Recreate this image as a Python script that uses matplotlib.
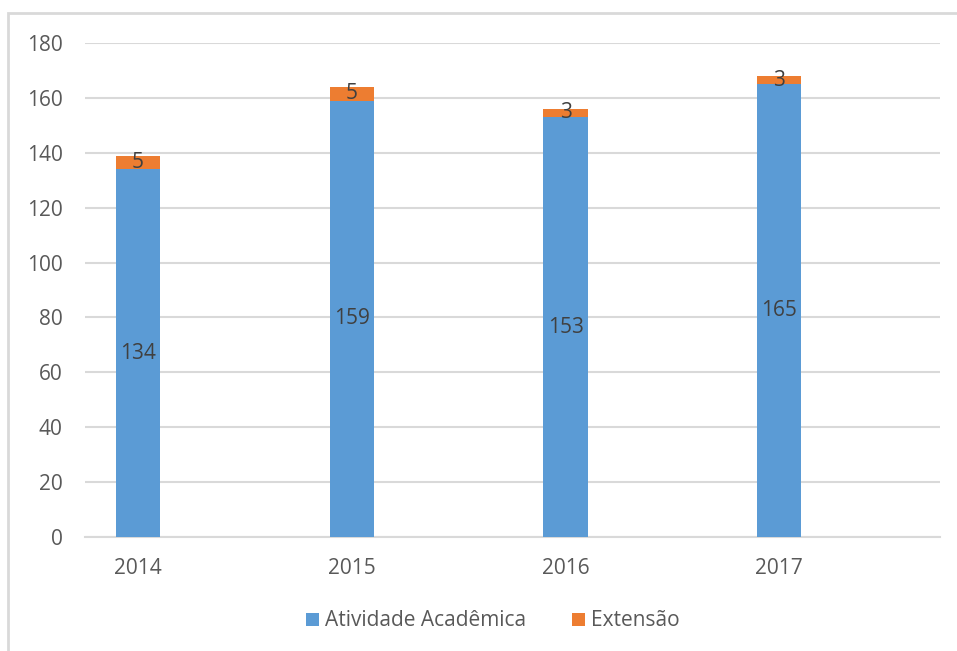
import matplotlib
matplotlib.use("Agg")
import matplotlib.pyplot as plt
from matplotlib.patches import Rectangle
import numpy as np

years = ["2014", "2015", "2016", "2017"]
academica = [134, 159, 153, 165]
extensao = [5, 5, 3, 3]
series_names = ["Atividade Acadêmica", "Extensão"]
yticks = [0, 20, 40, 60, 80, 100, 120, 140, 160, 180]

plt.rcParams['font.family'] = ['Open Sans', 'DejaVu Sans']
txt = '#595959'
blue = '#5B9BD5'
orange = '#ED7D31'
fs = 15

fig = plt.figure(figsize=(9.57, 6.51), dpi=100)
fig.patches.append(Rectangle((8/957, -0.1), 1.2, 1 - 13/651 + 0.1, transform=fig.transFigure,
                             fill=False, edgecolor='#D9D9D9', linewidth=2, zorder=0))
ax = fig.add_axes([85/957, 1 - 537/651, (940 - 85)/957, (537 - 43)/651])

x = np.arange(len(years))
w = 0.206
ax.bar(x, academica, width=w, color=blue, label=series_names[0], zorder=3)
ax.bar(x, extensao, width=w, bottom=academica, color=orange, label=series_names[1], zorder=3)

for xi, a, e in zip(x, academica, extensao):
    ax.text(xi, a / 2, str(a), ha='center', va='center', fontsize=fs, color='#404040', zorder=4)
    ax.text(xi, a + e / 2, str(e), ha='center', va='center', fontsize=fs, color='#404040', zorder=4)

ax.set_xlim(-0.248, 3.752)
ax.set_ylim(0, 180)
ax.set_yticks(yticks)
ax.set_xticks(x)
ax.set_xticklabels(years)
ax.tick_params(axis='both', length=0, labelsize=fs, labelcolor=txt)
ax.tick_params(axis='y', pad=16)
ax.tick_params(axis='x', pad=15)
ax.grid(axis='y', color='#D9D9D9', linewidth=1.5, zorder=0)
for s in ['top', 'right', 'left']:
    ax.spines[s].set_visible(False)
ax.spines['bottom'].set_color('#D9D9D9')
ax.spines['bottom'].set_linewidth(1.5)

fig.legend(loc='center', bbox_to_anchor=(493/957, 1 - 621/651), ncol=2, frameon=False,
           fontsize=fs, handlelength=0.6, handleheight=0.6, handletextpad=0.3, columnspacing=2.2,
           labelcolor=txt)

fig.savefig('out.png', dpi=100)
